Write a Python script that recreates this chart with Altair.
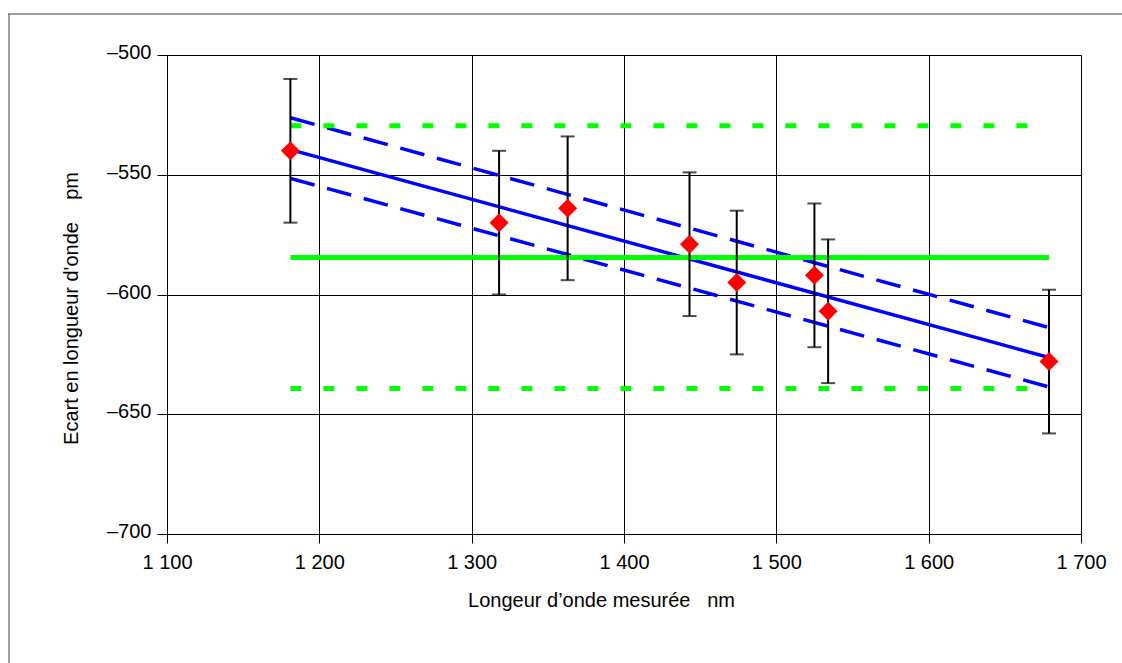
import altair as alt
import pandas as pd

wavelength_nm = [1181, 1318, 1363, 1443, 1474, 1525, 1534, 1679]
deviation_pm = [-540, -570, -564, -579, -595, -592, -607, -628]
uncertainty_pm = [30, 30, 30, 30, 30, 30, 30, 30]

# Line end points
line_x = [1181, 1679]
fit_y = [-539.5, -626.3]
fit_upper_y = [-526.2, -613.8]
fit_lower_y = [-551.5, -638.6]
mean_y = [-584.6, -584.6]
limit_upper_y = [-529.5, -529.5]
limit_lower_y = [-639.3, -639.3]

x_ticks = [1100, 1200, 1300, 1400, 1500, 1600, 1700]
y_ticks = [-700, -650, -600, -550, -500]

FONT = "Liberation Sans"

pts = pd.DataFrame({
    "x": wavelength_nm,
    "y": deviation_pm,
    "lo": [y - u for y, u in zip(deviation_pm, uncertainty_pm)],
    "hi": [y + u for y, u in zip(deviation_pm, uncertainty_pm)],
})


def line_df(ys):
    return pd.DataFrame({"x": line_x, "y": ys})


x_axis = alt.Axis(
    values=x_ticks,
    labelExpr="replace(format(datum.value, ','), ',', ' ')",
    grid=True, gridColor="black", gridWidth=1, gridOpacity=1,
    domainColor="black", domainWidth=1,
    tickColor="black", tickSize=9, tickWidth=1,
    labelFont=FONT, labelFontSize=20, labelColor="black", labelPadding=9,
    labelFlush=False, labelOverlap=False,
    title="Longeur d\u2019onde mesur\u00e9e\u00a0\u00a0\u00a0nm",
    titleFont=FONT, titleFontSize=20, titleFontWeight="normal", titleColor="black",
    titleX=434, titleY=72, titleBaseline="alphabetic", titleAlign="center",
)
y_axis = alt.Axis(
    values=y_ticks,
    labelExpr="'\u2013' + format(abs(datum.value), 'd')",
    grid=True, gridColor="black", gridWidth=1, gridOpacity=1,
    domainColor="black", domainWidth=1,
    tickColor="black", tickSize=10, tickWidth=1,
    labelFont=FONT, labelFontSize=20, labelColor="black", labelPadding=6,
    labelOffset=-2.5, labelFlush=False, labelOverlap=False,
    title="Ecart en longueur d'onde\u00a0\u00a0\u00a0\u00a0pm",
    titleFont=FONT, titleFontSize=20, titleFontWeight="normal", titleColor="black",
    titleAngle=270, titleX=-90, titleY=253, titleBaseline="alphabetic", titleAlign="center",
)

x_scale = alt.Scale(domain=[1100, 1700], nice=False, zero=False)
y_scale = alt.Scale(domain=[-700, -500], nice=False, zero=False)

X = alt.X("x:Q", scale=x_scale, axis=x_axis)
Y = alt.Y("y:Q", scale=y_scale, axis=y_axis)

# Outer chart-area frame (only its left and top edges fall inside the picture),
# drawn as thin filled bands with no stroke
frame_df = pd.DataFrame({"a": [0]})
frame_left = alt.Chart(frame_df).mark_rect(color="#7f7f7f", strokeWidth=0).encode(
    x=alt.value(-158.75), x2=alt.value(-157.25), y=alt.value(-41.75), y2=alt.value(608)
)
frame_top = alt.Chart(frame_df).mark_rect(color="#7f7f7f", strokeWidth=0).encode(
    x=alt.value(-158.75), x2=alt.value(955), y=alt.value(-41.75), y2=alt.value(-40.25)
)

err_rule = alt.Chart(pts).mark_rule(color="black", strokeWidth=2).encode(
    x=X, y=alt.Y("lo:Q", scale=y_scale, axis=y_axis), y2="hi:Q"
)
cap_lo = alt.Chart(pts).mark_tick(orient="horizontal", size=14, thickness=2, color="black").encode(
    x=X, y=alt.Y("lo:Q", scale=y_scale, axis=y_axis)
)
cap_hi = alt.Chart(pts).mark_tick(orient="horizontal", size=14, thickness=2, color="black").encode(
    x=X, y=alt.Y("hi:Q", scale=y_scale, axis=y_axis)
)

green = "#00ff00"
blue = "#0000ff"

mean_line = alt.Chart(line_df(mean_y)).mark_line(color=green, strokeWidth=5, strokeCap="butt").encode(x=X, y=Y)
lim_up = alt.Chart(line_df(limit_upper_y)).mark_line(
    color=green, strokeWidth=5, strokeDash=[11, 22], strokeCap="butt").encode(x=X, y=Y)
lim_lo = alt.Chart(line_df(limit_lower_y)).mark_line(
    color=green, strokeWidth=5, strokeDash=[11, 22], strokeCap="butt").encode(x=X, y=Y)

fit = alt.Chart(line_df(fit_y)).mark_line(color=blue, strokeWidth=3.5).encode(x=X, y=Y)
fit_up = alt.Chart(line_df(fit_upper_y)).mark_line(
    color=blue, strokeWidth=3.5, strokeDash=[25, 13], strokeCap="butt").encode(x=X, y=Y)
fit_lo = alt.Chart(line_df(fit_lower_y)).mark_line(
    color=blue, strokeWidth=3.5, strokeDash=[25, 13], strokeCap="butt").encode(x=X, y=Y)

diamonds = alt.Chart(pts).mark_point(
    shape="diamond", filled=True, size=361, color="#ff0000", opacity=1
).encode(x=X, y=Y)

chart = alt.layer(
    frame_left, frame_top, fit, fit_up, fit_lo, mean_line, lim_up, lim_lo,
    err_rule, cap_lo, cap_hi, diamonds
).properties(
    width=914, height=479,
    autosize=alt.AutoSizeParams(type="none"),
    padding={"left": 167, "top": 55, "right": 41, "bottom": 129},
    background="white",
).configure_view(stroke="black", strokeWidth=1)

chart.save("out.html", embed_options={"renderer": "svg", "actions": False})
